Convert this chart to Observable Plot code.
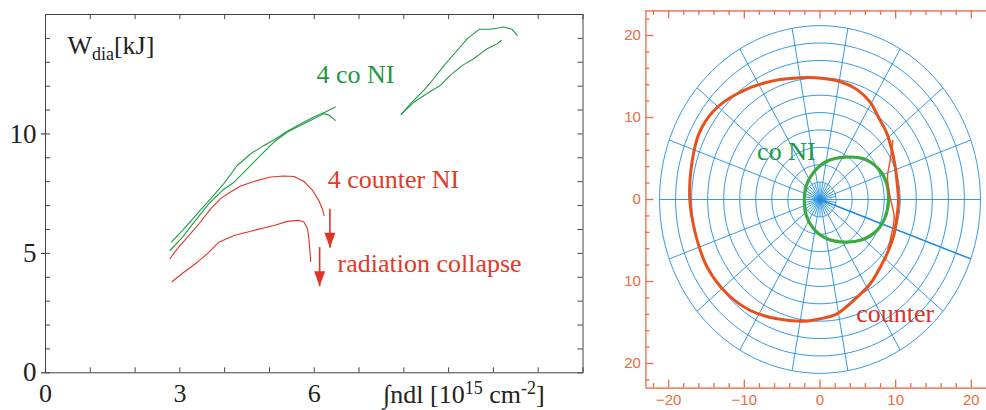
<!DOCTYPE html>
<html><head><meta charset="utf-8">
<script src="https://cdn.jsdelivr.net/npm/d3@7"></script>
<script src="https://cdn.jsdelivr.net/npm/@observablehq/plot@0.6"></script>
<style>
html,body{margin:0;padding:0;background:#fff;width:986px;height:410px;overflow:hidden}
#left{position:absolute;left:0;top:0}
#right{position:absolute;left:620px;top:0}
</style></head><body>
<div id="left"></div><div id="right"></div>
<script>
// ---------- Left panel: W_dia [kJ] vs line density [1e15 cm^-2] ----------
const coLowA = [[2.81,5.47],[3.09,6.03],[3.39,6.66],[3.69,7.29],[3.98,7.92],[4.28,8.68],[4.58,9.17],[4.88,9.52],[5.14,9.80],[5.40,10.11],[5.70,10.43],[5.99,10.71],[6.25,10.92],[6.47,11.13]];
const coLowB = [[2.78,5.12],[3.06,5.68],[3.35,6.38],[3.65,7.08],[3.95,7.64],[4.21,7.98],[4.51,8.55],[4.80,9.10],[5.10,9.66],[5.40,10.08],[5.70,10.36],[5.99,10.64],[6.22,10.85],[6.33,10.78],[6.47,10.57]];
const coHighA = [[7.94,10.82],[8.15,11.27],[8.45,11.83],[8.67,12.32],[8.90,12.87],[9.16,13.43],[9.42,13.99],[9.68,14.38],[9.94,14.38],[10.23,14.48],[10.42,14.38],[10.53,14.13]];
const coHighB = [[7.94,10.82],[8.23,11.34],[8.52,11.69],[8.82,12.04],[9.04,12.46],[9.31,12.87],[9.56,13.15],[9.86,13.57],[10.09,13.78],[10.18,13.92]];
const ctrUpper = [[2.78,4.78],[2.94,5.19],[3.17,5.68],[3.43,6.24],[3.69,6.87],[3.91,7.29],[4.13,7.57],[4.36,7.82],[4.65,8.01],[5.03,8.20],[5.32,8.24],[5.55,8.22],[5.77,8.01],[5.96,7.64],[6.10,7.22],[6.18,6.87],[6.22,6.59]];
const ctrLower = [[2.83,3.82],[3.09,4.21],[3.39,4.63],[3.61,4.98],[3.87,5.47],[4.21,5.75],[4.65,5.96],[5.10,6.17],[5.40,6.34],[5.66,6.38],[5.77,6.31],[5.85,6.03],[5.88,5.61],[5.90,5.19],[5.92,4.66]];
const arrows = [{x:6.35, y1:6.87, y2:5.24},{x:6.12, y1:5.26, y2:3.62}];
const leftLabels = [
  {x:6.05, y:12.12, t:"4 co NI", c:"#1a9a46"},
  {x:6.30, y:7.72, t:"4 counter NI", c:"#e23a26"},
  {x:6.52, y:4.22, t:"radiation collapse", c:"#e23a26"}
];
const xTicksL = [0,1,2,3,4,5,6,7,8,9,10,11,12];
const yTicksL = [0,1,2,3,4,5,6,7,8,9,10,11,12,13,14,15];
const xLabelsL = [0,3,6];
const yLabelsL = [0,5,10];

// ---------- Right panel: polar plot ----------
const counterLoop = [[-2.6,14.84],[-7.0,14.3],[-10.95,12.89],[-14.0,10.85],[-16.0,8.0],[-17.0,3.94],[-17.2,0],[-16.45,-4.18],[-14.9,-8.26],[-12.27,-11.5],[-9.2,-13.54],[-5.67,-14.55],[-2.16,-14.84],[0.04,-14.55],[2.24,-13.94],[4.43,-12.32],[6.64,-10.28],[7.96,-8.26],[9.05,-6.22],[9.80,-4.18],[10.16,-2.16],[10.37,-0.12],[10.2,1.95],[9.95,3.94],[9.50,5.98],[8.84,8.05],[7.75,10.0],[6.6,11.9],[4.9,13.4],[2.9,14.3],[0.5,14.75]];
const counterStrand = [[9.63,7.2],[9.27,4.76],[8.92,2.72],[9.27,0.28],[9.80,-2.16],[9.37,-4.6],[8.61,-7.44]];
const coLoop = [[3.34,5.16],[0.92,4.67],[-0.84,3.33],[-1.81,1.71],[-2.07,-0.04],[-1.81,-1.95],[-0.84,-3.57],[0.92,-4.79],[3.34,-5.2],[5.54,-4.92],[7.52,-3.78],[8.61,-2.16],[9.05,-0.04],[8.75,2.11],[7.73,3.74],[5.75,4.96]];
const ringRadii = [2.12,4.24,6.36,8.48,10.6,12.72,14.84,16.96,19.08,21.2];
const spokeAngles = [0,20,40,60,80,100,120,140,160,180,200,220,240,260,280,300,320,340];
const innerSpokeAngles = [10,30,50,70,90,110,130,150,170,190,210,230,250,270,290,310,330,350];
const boldSpokeAngle = [340];
const xTicksR = [-22,-20,-18,-16,-14,-12,-10,-8,-6,-4,-2,0,2,4,6,8,10,12,14,16,18,20];
const yTicksR = [-22,-20,-18,-16,-14,-12,-10,-8,-6,-4,-2,0,2,4,6,8,10,12,14,16,18,20,22];
const majorR = [-20,-10,0,10,20];
const rightLabels = [
  {x:-8.31, y:4.76, t:"co NI", c:"#1f9a46"},
  {x:4.79, y:-14.96, t:"counter", c:"#d8322a"}
];

// ====== build left ======
const WL = 600, HL = 410, mL = 45, mR = 17.5, mT = 14, mB = 37.7;
const innerWL = WL - mL - mR, innerHL = HL - mT - mB;
const tickLen = 5;
const axisCol = "#444";
const red = "#e03424", green = "#1f9c45";
const headSym = {draw(ctx){ ctx.moveTo(-5.5,-15); ctx.lineTo(5.5,-15); ctx.lineTo(0,0); ctx.closePath(); }};

const left = Plot.plot({
  width: WL, height: HL, marginLeft: mL, marginRight: mR, marginTop: mT, marginBottom: mB,
  x: {domain: [0, 12]}, y: {domain: [0, 15]},
  style: {fontFamily: "Liberation Serif", fontSize: "26px", background: "transparent"},
  marks: [
    Plot.frame({stroke: axisCol, strokeWidth: 1}),
    Plot.tickX(xTicksL, {x: d => d, insetTop: innerHL - tickLen, stroke: axisCol}),
    Plot.tickX(xTicksL, {x: d => d, insetBottom: innerHL - tickLen, stroke: axisCol}),
    Plot.tickY(yTicksL, {y: d => d, insetRight: innerWL - tickLen, stroke: axisCol}),
    Plot.tickY(yTicksL, {y: d => d, insetLeft: innerWL - tickLen, stroke: axisCol}),
    Plot.axisX({ticks: xLabelsL, tickSize: 0, tickPadding: 11, fontSize: 26, fontFamily: "Liberation Serif", color: "#222", label: null}),
    Plot.axisY({ticks: yLabelsL, tickSize: 4, tickPadding: 5, fontSize: 27, fontFamily: "Liberation Serif", color: "#222", label: null}),
    Plot.line(coLowA, {stroke: green, strokeWidth: 1.1}),
    Plot.line(coLowB, {stroke: green, strokeWidth: 1.1}),
    Plot.line(coHighA, {stroke: green, strokeWidth: 1.1}),
    Plot.line(coHighB, {stroke: green, strokeWidth: 1.1}),
    Plot.line(ctrUpper, {stroke: red, strokeWidth: 1.1}),
    Plot.line(ctrLower, {stroke: red, strokeWidth: 1.1}),
    Plot.link(arrows, {x1: "x", x2: "x", y1: "y1", y2: "y2", stroke: red, strokeWidth: 1.6}),
    Plot.dot(arrows, {x: "x", y: "y2", symbol: headSym, r: 5, fill: red, stroke: null}),
    Plot.text(leftLabels, {x: "x", y: "y", text: "t", fill: "c", textAnchor: "start", lineAnchor: "bottom", fontSize: 26, fontFamily: "Liberation Serif"})
  ]
});
document.getElementById("left").appendChild(left);
{
  const sx = left.scale("x"), sy = left.scale("y");
  const g = d3.select(left).append("g").attr("font-family", "Liberation Serif").attr("fill", "#222").attr("text-anchor", "start");
  const t1 = g.append("text").attr("x", sx.apply(0.5)).attr("y", sy.apply(13.33)).attr("font-size", 26).attr("text-anchor", "start");
  t1.append("tspan").text("W");
  t1.append("tspan").attr("dy", 6).attr("font-size", 18).text("dia");
  t1.append("tspan").attr("dy", -6).text("[kJ]");
  const t2 = g.append("text").attr("x", sx.apply(7.55)).attr("y", sy.apply(-1.28)).attr("font-size", 26).attr("text-anchor", "start");
  t2.append("tspan").text("\u222Bndl [10");
  t2.append("tspan").attr("dy", -9).attr("font-size", 18).text("15");
  t2.append("tspan").attr("dy", 9).text(" cm");
  t2.append("tspan").attr("dy", -9).attr("font-size", 18).text("-2");
  t2.append("tspan").attr("dy", 9).text("]");
}

// ====== build right ======
const WR = 366, HR = 410, rL = 25.4, rR = 0, rT = 10.4, rB = 22.4;
const innerWR = WR - rL - rR, innerHR = HR - rT - rB;
const orange = "#f06a40", gridCol = "#1f8ee0";
const rad = a => a * Math.PI / 180;
const ringPts = ringRadii.flatMap((r, i) => d3.range(0, 361, 3).map(a => ({x: r * Math.cos(rad(a)), y: r * Math.sin(rad(a)), k: i})));
const outerR = ringRadii[ringRadii.length - 1];
const spokes = spokeAngles.map(a => ({x2: outerR * Math.cos(rad(a)), y2: outerR * Math.sin(rad(a))}));
const innerSpokes = innerSpokeAngles.map(a => ({x2: ringRadii[0] * Math.cos(rad(a)), y2: ringRadii[0] * Math.sin(rad(a))}));
const boldSpokes = boldSpokeAngle.map(a => ({x2: outerR * Math.cos(rad(a)), y2: outerR * Math.sin(rad(a))}));
const minorX = xTicksR.filter(d => !majorR.includes(d));
const minorY = yTicksR.filter(d => !majorR.includes(d));

const right = Plot.plot({
  width: WR, height: HR, marginLeft: rL, marginRight: rR, marginTop: rT, marginBottom: rB,
  x: {domain: [-23, 22]}, y: {domain: [-23, 23]},
  style: {fontFamily: "Liberation Sans", fontSize: "15px", background: "transparent", overflow: "visible"},
  marks: [
    Plot.line(ringPts, {x: "x", y: "y", z: "k", stroke: gridCol, strokeWidth: 0.9}),
    Plot.link(spokes, {x1: 0, y1: 0, x2: "x2", y2: "y2", stroke: gridCol, strokeWidth: 0.9}),
    Plot.link(innerSpokes, {x1: 0, y1: 0, x2: "x2", y2: "y2", stroke: gridCol, strokeWidth: 0.9}),
    Plot.link(boldSpokes, {x1: 0, y1: 0, x2: "x2", y2: "y2", stroke: gridCol, strokeWidth: 1.4}),
    Plot.line(coLoop, {stroke: "#3caa3c", strokeWidth: 3.2, curve: "catmull-rom-closed"}),
    Plot.line(counterLoop, {stroke: "#e8501e", strokeWidth: 3, curve: "catmull-rom-closed"}),
    Plot.line(counterStrand, {stroke: "#e8501e", strokeWidth: 1.4, curve: "catmull-rom"}),
    Plot.ruleX([-23], {stroke: "#f28a6c", strokeWidth: 1.6}),
    Plot.ruleY([-23, 23], {stroke: "#f28a6c", strokeWidth: 1.6}),
    Plot.tickX(minorX, {x: d => d, insetTop: innerHR - 4.5, stroke: orange, strokeWidth: 1.3}),
    Plot.tickX(majorR, {x: d => d, insetTop: innerHR - 8, stroke: orange, strokeWidth: 1.3}),
    Plot.tickX(minorX, {x: d => d, insetBottom: innerHR - 4.5, stroke: orange, strokeWidth: 1.3}),
    Plot.tickX(majorR, {x: d => d, insetBottom: innerHR - 8, stroke: orange, strokeWidth: 1.3}),
    Plot.tickY(minorY, {y: d => d, insetRight: innerWR - 4, stroke: orange, strokeWidth: 1.3}),
    Plot.tickY(majorR, {y: d => d, insetRight: innerWR - 8, stroke: orange, strokeWidth: 1.3}),
    Plot.axisX({ticks: majorR, tickSize: 0, tickPadding: 6, fontSize: 15, fontFamily: "Liberation Sans", color: orange, label: null}),
    Plot.axisY({ticks: majorR, tickSize: 0, tickPadding: 5, tickFormat: d => String(Math.abs(d)), fontSize: 15, fontFamily: "Liberation Sans", color: orange, label: null}),
    Plot.text(rightLabels, {x: "x", y: "y", text: "t", fill: "c", textAnchor: "start", lineAnchor: "bottom", fontSize: 26, fontFamily: "Liberation Serif"})
  ]
});
document.getElementById("right").appendChild(right);
</script>
</body></html>
